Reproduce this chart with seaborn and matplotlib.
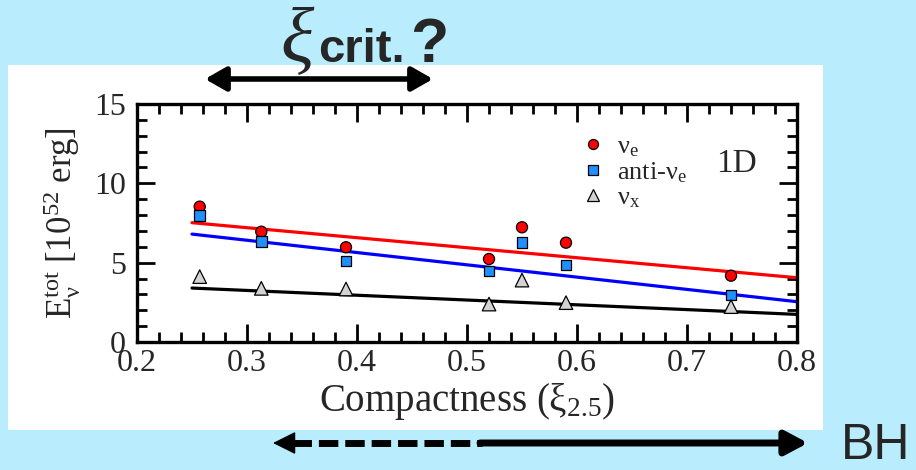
import numpy as np
import pandas as pd
import matplotlib
matplotlib.use("Agg")
import matplotlib.pyplot as plt
import seaborn as sns
from matplotlib.patches import Rectangle, FancyArrowPatch
from matplotlib.lines import Line2D
from matplotlib.ticker import MultipleLocator

# ---------------- data ----------------
xi = [0.257, 0.313, 0.390, 0.520, 0.550, 0.590, 0.740]
e_nue = [8.53, 6.95, 5.97, 5.23, 7.23, 6.26, 4.18]
e_anue = [7.96, 6.32, 5.10, 4.47, 6.26, 4.85, 2.96]
e_nux = [4.12, 3.38, 3.34, 2.39, 3.90, 2.48, 2.23]

fit_x = [0.25, 0.80]
fit_nue = [7.52, 4.05]
fit_anue = [6.80, 2.54]
fit_nux = [3.40, 1.74]

series = [r"$\mathrm{ν}_\mathrm{e}$", r"anti-$\mathrm{ν}_\mathrm{e}$", r"$\mathrm{ν}_\mathrm{x}$"]
xticks = [0.2, 0.3, 0.4, 0.5, 0.6, 0.7, 0.8]
xticklabels = ["0.2", "0.3", "0.4", "0.5", "0.6", "0.7", "0.8"]
yticks = [0, 5, 10, 15]
yticklabels = ["0", "5", "10", "15"]

pts = pd.DataFrame({
    "xi": xi * 3,
    "E": e_nue + e_anue + e_nux,
    "series": [series[0]] * len(xi) + [series[1]] * len(xi) + [series[2]] * len(xi),
})
fits = pd.DataFrame({
    "xi": fit_x * 3,
    "E": fit_nue + fit_anue + fit_nux,
    "series": [series[0]] * 2 + [series[1]] * 2 + [series[2]] * 2,
})

# ---------------- style ----------------
sns.set_theme(style="ticks")
plt.rcParams["font.family"] = ["Liberation Serif", "DejaVu Serif"]
plt.rcParams["mathtext.fontset"] = "custom"
plt.rcParams["mathtext.rm"] = "Liberation Serif"
plt.rcParams["mathtext.it"] = "Liberation Serif:italic"
plt.rcParams["mathtext.bf"] = "Liberation Serif:bold"

bg = "#b9ecfd"
W, H = 916, 470
fig = plt.figure(figsize=(W / 100, H / 100), dpi=100, facecolor=bg)

def fx(px):
    return px / W

def fy(py):
    return 1 - py / H

fig.patches.append(Rectangle((fx(8), fy(430)), fx(823) - fx(8), fy(65) - fy(430),
                             transform=fig.transFigure, facecolor="white",
                             edgecolor="none", zorder=-5))

ax = fig.add_axes([fx(137), fy(342), fx(797) - fx(137), fy(104) - fy(342)])
ax.set_facecolor("white")

line_pal = {series[0]: "#ff0000", series[1]: "#0000ff", series[2]: "#000000"}
pt_pal = {series[0]: "#ff0000", series[1]: "#1e90ff", series[2]: "#d3d3d3"}
markers = {series[0]: "o", series[1]: "s", series[2]: "^"}
msizes = {series[0]: 64, series[1]: 58, series[2]: 95}

sns.lineplot(data=fits, x="xi", y="E", hue="series", palette=line_pal,
             linewidth=2.3, legend=False, ax=ax, zorder=2)
sns.scatterplot(data=pts, x="xi", y="E", hue="series", style="series",
                size="series", sizes=msizes,
                palette=pt_pal, markers=markers, edgecolor="black",
                linewidth=0.9, ax=ax, zorder=3)

ax.set_xlim(0.2, 0.8)
ax.set_ylim(0, 15)
ax.set_xticks(xticks)
ax.set_xticklabels(xticklabels)
ax.set_yticks(yticks)
ax.set_yticklabels(yticklabels)
ax.xaxis.set_minor_locator(MultipleLocator(0.02))
ax.yaxis.set_minor_locator(MultipleLocator(1))
ax.tick_params(which="both", direction="in", top=True, right=True,
               width=2, color="black")
ax.tick_params(which="major", length=13, labelsize=23, pad=5)
ax.tick_params(which="minor", length=7)
ax.tick_params(axis="y", which="major", pad=8)
for sp in ax.spines.values():
    sp.set_linewidth(2.4)
    sp.set_color("black")
    sp.set_visible(True)

ax.set_xlabel(r"Compactness ($\mathrm{ξ}_{2.5}$)", fontsize=28, labelpad=2)
ax.set_ylabel(r"$\mathrm{E}_{\mathrm{ν}}^{\mathrm{tot}}\ [10^{52}\ \mathrm{erg}]$",
              fontsize=25, labelpad=8)

handles, labels = ax.get_legend_handles_labels()
ax.legend(handles, labels, loc="upper left", bbox_to_anchor=(0.675, 0.87),
          frameon=False, fontsize=19, handlelength=0.8, handletextpad=0.5,
          labelspacing=0.05, borderpad=0, borderaxespad=0, markerscale=0.9)

ax.text(0.877, 0.714, "1D", transform=ax.transAxes, fontsize=24,
        va="baseline", ha="left")

# ---------------- annotations (figure coordinates) ----------------
fig.text(fx(280), fy(62), r"$ξ$", fontsize=56,
         va="baseline", ha="left")
fig.text(fx(318), fy(62), "crit.", fontsize=34, weight="bold",
         family="Liberation Sans", va="baseline", ha="left")
fig.text(fx(410), fy(62), "?", fontsize=45, weight="bold",
         family="Liberation Sans", va="baseline", ha="left")
fig.text(fx(841), fy(459), "BH", fontsize=36, family="Liberation Sans",
         va="baseline", ha="left")

top_arrow = FancyArrowPatch((fx(205), fy(79)), (fx(433), fy(79)),
                            transform=fig.transFigure,
                            arrowstyle="<|-|>,head_length=0.42,head_width=0.24",
                            mutation_scale=30, linewidth=4, color="black",
                            shrinkA=0, shrinkB=0)
fig.patches.append(top_arrow)

lw_b = 5
dash = Line2D([fx(292), fx(482)], [fy(443), fy(443)], transform=fig.transFigure,
              color="black", linewidth=lw_b, dashes=[14 / lw_b, 5 / lw_b],
              solid_capstyle="butt", dash_capstyle="butt")
fig.lines.append(dash)
left_head = FancyArrowPatch((fx(295), fy(443)), (fx(273), fy(443)),
                            transform=fig.transFigure,
                            arrowstyle="-|>,head_length=0.48,head_width=0.24",
                            mutation_scale=30, linewidth=1, color="black",
                            shrinkA=0, shrinkB=0)
fig.patches.append(left_head)
right_arrow = FancyArrowPatch((fx(480), fy(443)), (fx(808), fy(443)),
                              transform=fig.transFigure,
                              arrowstyle="-|>,head_length=0.45,head_width=0.24",
                              mutation_scale=30, linewidth=lw_b, color="black",
                              shrinkA=0, shrinkB=0)
fig.patches.append(right_arrow)

fig.savefig("out.png", dpi=100, facecolor=bg)
